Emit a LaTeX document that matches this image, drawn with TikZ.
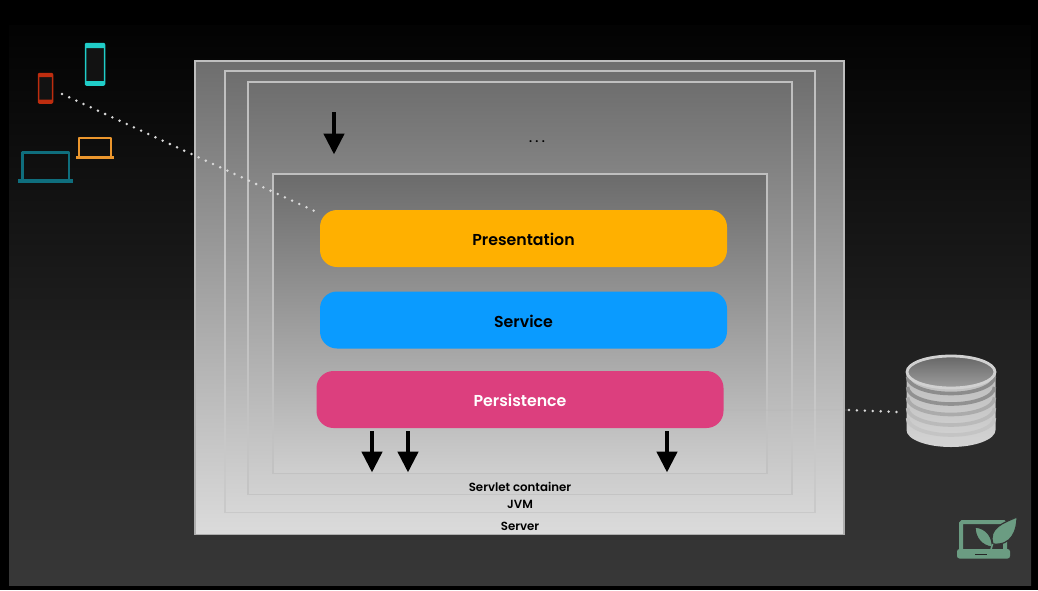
\documentclass[tikz,border=0pt]{standalone}
\usepackage{fontspec}
\setmainfont{Poppins}[BoldFont={Poppins SemiBold}]
\usetikzlibrary{arrows.meta}
\definecolor{pgold}{HTML}{FFB000}
\definecolor{pblue}{HTML}{0A9BFF}
\definecolor{ppink}{HTML}{DC3F7E}
\definecolor{leafg}{HTML}{6B9C82}
\definecolor{devred}{RGB}{190,45,15}
\definecolor{devcyan}{RGB}{32,205,200}
\definecolor{devorange}{RGB}{235,150,45}
\definecolor{devteal}{RGB}{15,110,125}
\tikzset{
  x=1pt,y=-1pt,
  tierbox/.style={rounded corners=17pt,minimum width=407pt,minimum height=57pt,inner sep=0pt,
    font=\fontsize{15.8}{18}\selectfont\bfseries,text=black},
  caption/.style={font=\fontsize{11.8}{14}\selectfont\bfseries,text=black,inner sep=0pt},
  callarrow/.style={line width=4.6pt,black,-{Triangle[width=20pt,length=21pt]}},
  wire/.style={line width=2.8pt,white!85!black,line cap=round,dash pattern=on 0pt off 7.925pt},
  icon/.style={line width=#1,line join=round}
}
% x1 y1 x2 y2 top-shade bottom-shade bottom-edge-shade
\newcommand{\layerrect}[7]{%
  \shade[top color=black!#5,bottom color=black!#6] (#1,#2) rectangle (#3,#4);
  \shade[top color=black!25,bottom color=black!#7] (#1-0.6,#2) rectangle (#1+0.6,#4);
  \shade[top color=black!25,bottom color=black!#7] (#3-0.6,#2) rectangle (#3+0.6,#4);
  \fill[black!25] (#1-0.6,#2-0.6) rectangle (#3+0.6,#2+0.6);
  \fill[black!#7] (#1-0.6,#4-0.4) rectangle (#3+0.6,#4+0.4);
}
\newcommand{\tierlabel}[1]{\raisebox{-1.3pt}[\height][\depth]{#1}}
\begin{document}
\begin{tikzpicture}
\useasboundingbox (0,0) rectangle (1038,590);
% background
\fill[black] (0,0) rectangle (1038,590);
\shade[top color=black!99,bottom color=black!78,middle color=black!89] (9,25) rectangle (1031,585);
% nested layers
\layerrect{195}{61}{844}{534}{57}{14}{32}
\layerrect{225}{71}{815}{512}{57}{16}{21}
\layerrect{248}{82}{792}{494}{57}{18}{23}
\layerrect{273}{174}{767}{473}{58}{19}{24}
% tiers
\node[tierbox,fill=pgold] (pres) at (523.5,238.5) {\tierlabel{Presentation}};
\node[tierbox,fill=pblue] (serv) at (523.5,320) {\tierlabel{Service}};
\node[tierbox,fill=ppink,text=white] (pers) at (520,399.5) {\tierlabel{Persistence}};
% captions
\node[caption] (dots) at (537,141.5) {.\kern3.4pt.\kern3.4pt.};
\node[caption] (sc) at (520,486.5) {Servlet container};
\node[caption] (jvm) at (520,504) {JVM};
\node[caption] (srv) at (520,526) {Server};
% arrows
\coordinate (a0s) at (334,112); \coordinate (a0e) at (334,154.5);
\coordinate (a1s) at (372,431); \coordinate (a1e) at (372,472.5);
\coordinate (a2s) at (408,431); \coordinate (a2e) at (408,472.5);
\coordinate (a3s) at (667,431); \coordinate (a3e) at (667,472.5);
\draw[callarrow] (a0s) -- (a0e);
\draw[callarrow] (a1s) -- (a1e);
\draw[callarrow] (a2s) -- (a2e);
\draw[callarrow] (a3s) -- (a3e);
% device icons
\draw[icon=1.5pt,draw=devred,fill=black!93,rounded corners=1pt] (38.5,73.5) rectangle (52.5,103);
\fill[devred] (38.5,73.5) rectangle (52.5,77) (38.5,99.5) rectangle (52.5,103);
\draw[icon=1.5pt,draw=devcyan,fill=black!93,rounded corners=1pt] (85.5,43.5) rectangle (104.5,85);
\fill[devcyan] (85.5,43.5) rectangle (104.5,48) (85.5,81) rectangle (104.5,85);
\draw[icon=2pt,draw=devorange] (78.5,157) -- (78.5,137.5) -- (111,137.5) -- (111,157);
\fill[devorange] (75.5,156) rectangle (114,158.5);
\draw[icon=2.4pt,draw=devteal] (22.5,180) -- (22.5,152.5) -- (69,152.5) -- (69,180);
\fill[devteal] (18,179) rectangle (73,182.5);
% database
\node[inner sep=0pt,minimum width=92pt,minimum height=92pt] (db) at (951,401) {};
\shade[top color=black!26,bottom color=black!17]
  (906.5,372) -- (906.5,430) arc[start angle=180,end angle=360,x radius=44.5pt,y radius=17pt] -- (995.5,372) -- cycle;
\foreach \cy/\c in {376.5/45,387/43,397.5/33,408/27,418/23}
  \draw[line width=3.6pt,black!\c] (907.5,\cy) arc[start angle=180,end angle=360,x radius=43.5pt,y radius=17pt];
\shade[top color=black!60,bottom color=black!38,draw=black!18,line width=2.8pt] (951,372) ellipse[x radius=44pt,y radius=16pt];
% wires
\coordinate (cl) at (62,94);
\coordinate (dbp) at (898,412);
\coordinate (ex) at (849,410);
\draw[wire] (cl) -- (pres.173.6);
\draw[black!30,opacity=.35,line width=.8pt] (pers.357.6) -- (ex);
\draw[wire] (ex) -- (dbp);
% logo
\draw[leafg,line width=4pt,rounded corners=1.5pt] (961,552) -- (961,522) -- (1005,522) -- (1005,552);
\fill[leafg,rounded corners=2.5pt] (957,549) -- (1010,549) -- (1010,558.5) -- (957,558.5) -- cycle;
\fill[black!85] (975,553.5) rectangle (987,555);
\filldraw[leafg,draw=black!80,line width=1.2pt] (993,544) .. controls (988,528) and (1003,523) .. (1017,517) .. controls (1017,530) and (1012,546) .. (993,544) -- cycle;
\filldraw[leafg,draw=black!80,line width=1.2pt] (992,547) .. controls (982,546) and (975,538) .. (975,527) .. controls (987,528) and (993,538) .. (992,547) -- cycle;
\draw[leafg,line width=1.6pt] (990,553) -- (992.5,544);
\end{tikzpicture}
\end{document}
